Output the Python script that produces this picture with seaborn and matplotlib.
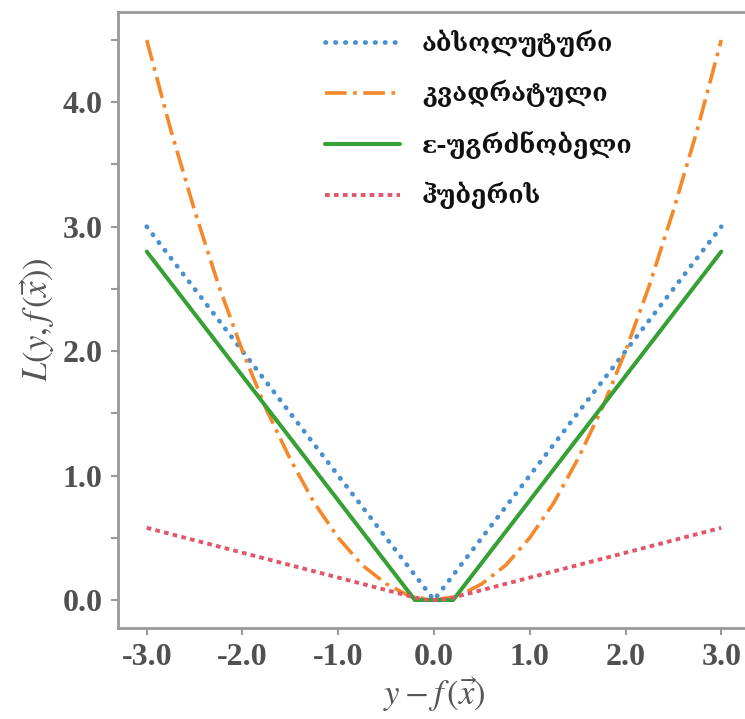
import matplotlib
matplotlib.use("Agg")
import matplotlib.pyplot as plt
from matplotlib.ticker import MultipleLocator, FormatStrFormatter
import seaborn as sns
import pandas as pd

# Loss curves, values along y - f(x)
abs_x = [-3.0, 0.0, 3.0]
abs_y = [3.0, 0.0, 3.0]

quad_x = [-3.0, -2.75, -2.5, -2.25, -2.0, -1.75, -1.5, -1.25, -1.0, -0.75, -0.5, -0.25,
          0.0, 0.25, 0.5, 0.75, 1.0, 1.25, 1.5, 1.75, 2.0, 2.25, 2.5, 2.75, 3.0]
quad_y = [4.5, 3.78, 3.13, 2.53, 2.0, 1.53, 1.13, 0.78, 0.5, 0.28, 0.13, 0.03,
          0.0, 0.03, 0.13, 0.28, 0.5, 0.78, 1.13, 1.53, 2.0, 2.53, 3.13, 3.78, 4.5]

eps_x = [-3.0, -0.2, 0.2, 3.0]
eps_y = [2.8, 0.0, 0.0, 2.8]

huber_x = [-3.0, -0.2, -0.1, 0.0, 0.1, 0.2, 3.0]
huber_y = [0.58, 0.02, 0.005, 0.0, 0.005, 0.02, 0.58]

labels = ["აბსოლუტური", "კვადრატული", "ε-უგრძნობელი", "ჰუბერის"]
colors = ["#4a90cc", "#f5882a", "#35a035", "#e0566a"]

xticks = [-3.0, -2.0, -1.0, 0.0, 1.0, 2.0, 3.0]
yticks = [0.0, 1.0, 2.0, 3.0, 4.0]

sns.set_theme(style="ticks")
plt.rcParams["font.family"] = ["Liberation Serif", "DejaVu Serif"]
plt.rcParams["mathtext.fontset"] = "stix"
plt.rcParams["axes.unicode_minus"] = False

fig = plt.figure(figsize=(7.45, 7.19), dpi=100)
ax = fig.add_axes([118 / 745, 1 - 628 / 719, (750 - 118) / 745, (628 - 12) / 719])

series = [
    (abs_x, abs_y, dict(linestyle=(0, (0.1, 2.0)), linewidth=3.4, dash_capstyle="round")),
    (quad_x, quad_y, dict(linestyle=(0, (6.0, 1.8, 1.0, 1.8)), linewidth=2.6)),
    (eps_x, eps_y, dict(linestyle="-", linewidth=2.9)),
    (huber_x, huber_y, dict(linestyle=(0, (1.2, 1.1)), linewidth=2.8)),
]

for (xs, ys, style), lab, col in zip(series, labels, colors):
    df = pd.DataFrame({"x": xs, "y": ys})
    sns.lineplot(data=df, x="x", y="y", ax=ax, color=col, label=lab,
                 estimator=None, sort=False, **style)

ax.set_xlim(-3.3, 3.3)
ax.set_ylim(-0.225, 4.725)
ax.set_xticks(xticks)
ax.set_yticks(yticks)
ax.yaxis.set_minor_locator(MultipleLocator(0.5))
ax.xaxis.set_major_formatter(FormatStrFormatter("%.1f"))
ax.yaxis.set_major_formatter(FormatStrFormatter("%.1f"))

tick_col = "#505050"
ax.tick_params(axis="both", which="both", direction="out", length=5, width=1.5,
               color="#999999", labelsize=23, labelcolor=tick_col, pad=6)
for lab in ax.get_xticklabels() + ax.get_yticklabels():
    lab.set_fontweight("bold")

for side in ["left", "bottom", "top"]:
    ax.spines[side].set_color("#999999")
    ax.spines[side].set_linewidth(2.0)
ax.spines["right"].set_visible(False)

ax.set_xlabel(r"$y - f\,(\vec{x})$", fontsize=25, color="#555555", labelpad=2)
ax.set_ylabel(r"$L(y, f\,(\vec{x}))$", fontsize=25, color="#555555", labelpad=4)

leg = ax.legend(loc="upper left", bbox_to_anchor=(312 / 745, 1 - 17 / 719),
                bbox_transform=fig.transFigure, frameon=False, borderpad=0,
                handlelength=3.0, handletextpad=0.9, labelspacing=0.93,
                prop={"family": ["DejaVu Serif", "DejaVu Sans"], "weight": "bold", "size": 18})
for t in leg.get_texts():
    t.set_color("#111111")

fig.savefig("out.png", dpi=100, facecolor="white")
